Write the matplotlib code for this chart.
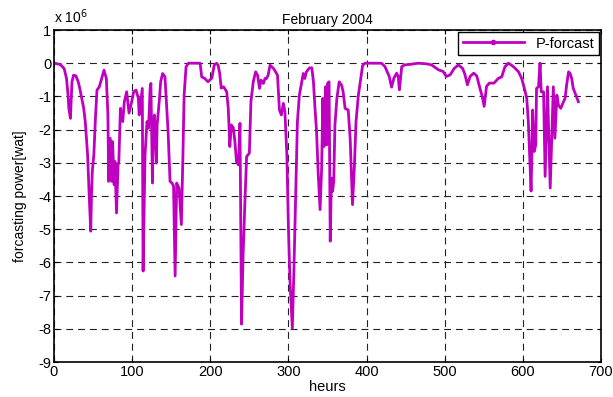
import matplotlib
matplotlib.use("Agg")
import matplotlib.pyplot as plt
from matplotlib.lines import Line2D
from matplotlib.ticker import FuncFormatter

# hourly forecast (units of 1e6 W)
hours = [0, 8, 13, 16, 18, 19, 21, 23, 25, 28, 31, 33, 36, 38, 40, 43, 45, 47, 48, 49,
         51, 53, 55, 58, 61, 64, 67, 69, 70, 72, 74, 75, 77, 78, 80, 82, 83, 85, 88, 90,
         93, 96, 99, 102, 105, 108, 109, 111, 113, 114, 116.5, 119, 121, 123, 124, 126, 127, 128.5, 131, 132,
         135, 136.5, 139, 142, 144, 146, 148.5, 151, 153, 155, 157, 160, 163, 165, 166.5, 169, 172, 187, 189, 193,
         197, 202, 205, 208, 210, 212, 214, 217, 221, 223, 225, 227, 229.5, 231.5, 233.5, 236, 238, 240, 242, 244.5,
         246.5, 250, 252, 255, 258, 260.5, 263, 265, 268, 270, 272, 274, 276.5, 281, 286, 288.5, 291, 293.5, 295.5, 298,
         300, 302, 305, 307, 309.5, 311.5, 314, 317, 319, 321, 323, 327, 330, 332, 334, 336, 338, 340.5, 342.5, 344,
         345.5, 347.5, 349, 350, 352, 353.5, 355, 356.5, 358, 359.5, 362, 365, 368, 370, 372.5, 376.5, 379, 381, 382, 384.5,
         386.5, 389.5, 392.5, 395, 398, 408, 419, 423.5, 429, 432, 435, 438.5, 440.5, 442, 445, 449, 458, 466, 477, 483,
         492, 498, 502, 507, 512, 517.5, 523, 526, 529, 532.5, 537, 541, 545, 548, 550.5, 553.5, 557, 563, 568.5, 573,
         577, 581.5, 585.5, 590, 594.5, 598.5, 602, 605, 607, 609, 610.5, 611.5, 612.5, 614.5, 616.5, 617.5, 620, 622, 623.5, 626.5,
         628.5, 631.5, 635, 639, 641, 643.5, 645.5, 648.5, 652, 654, 656, 658.5, 660.5, 662.5, 664.5, 667, 671]
power = [0, -0.04, -0.16, -0.46, -0.96, -1.36, -1.66, -0.56, -0.36, -0.38, -0.56, -0.76, -1.11, -1.36, -1.76, -2.76, -3.96, -5.06, -3.96, -3.26,
         -2.76, -1.66, -0.81, -0.71, -0.46, -0.21, -0.46, -1.56, -3.56, -2.26, -3.56, -2.36, -3.66, -2.96, -4.51, -3.06, -2.96, -1.36, -1.76, -1.16,
         -0.86, -1.5, -1.2, -0.86, -0.81, -1.06, -1.56, -1.16, -0.76, -6.26, -2.76, -1.76, -1.96, -0.76, -0.61, -3.61, -1.96, -1.56, -3.01, -1.86,
         -1.06, -0.56, -0.31, -0.41, -1.26, -2.06, -3.56, -3.61, -3.7, -6.41, -3.61, -3.76, -4.86, -2.76, -0.96, -0.11, 0, 0, -0.41, -0.46,
         -0.56, -0.45, -0.06, 0, -0.06, -0.3, -0.75, -0.71, -0.86, -1.36, -2.51, -1.86, -1.95, -2.36, -2.96, -3.06, -1.81, -7.86, -5.76, -4.06,
         -2.81, -2.71, -1.16, -0.56, -0.26, -0.36, -0.76, -0.51, -0.61, -0.46, -0.46, -0.36, -0.06, -0.16, -0.36, -1.41, -1.56, -1.21, -1.46, -2.76,
         -4.96, -6.56, -7.98, -6.26, -3.76, -1.76, -0.96, -0.56, -0.31, -0.46, -0.26, -0.14, -0.14, -0.56, -1.36, -2.06, -3.26, -4.41, -3.16, -1.06,
         -2.51, -0.71, -2.46, -0.61, -0.56, -5.36, -3.46, -3.86, -3.56, -1.86, -1.06, -0.56, -0.66, -0.86, -1.36, -1.41, -2.26, -3.56, -4.26, -3.06,
         -1.76, -0.96, -0.46, -0.06, 0, 0, 0, -0.1, -0.4, -0.72, -0.45, -0.3, -0.4, -0.8, -0.1, -0.05, -0.03, 0, -0.02, -0.05,
         -0.2, -0.25, -0.4, -0.35, -0.16, -0.05, -0.16, -0.35, -0.65, -0.4, -0.3, -0.38, -0.75, -1.0, -1.3, -0.7, -0.6, -0.6, -0.46, -0.41,
         -0.11, 0, -0.06, -0.15, -0.26, -0.46, -0.76, -1.06, -1.76, -3.0, -3.85, -2.76, -1.41, -2.66, -2.46, -0.76, -0.71, 0, -0.86, -0.86,
         -3.41, -0.71, -3.76, -0.71, -2.26, -0.96, -1.26, -1.36, -1.16, -1.06, -0.66, -0.26, -0.31, -0.46, -0.76, -0.91, -1.16]

line_color = '#c000c0'

plt.rcParams['font.family'] = ['Liberation Sans', 'DejaVu Sans']
plt.rcParams['font.size'] = 10
plt.rcParams['axes.unicode_minus'] = False
plt.rcParams['lines.scale_dashes'] = False

fig = plt.figure(figsize=(6.13, 3.97), dpi=100)
ax = fig.add_axes([54 / 613, 35 / 397, 547 / 613, 332 / 397])

ax.plot(hours, [p * 1e6 for p in power], color=line_color, lw=2.0)

ax.set_xlim(0, 700)
ax.set_ylim(-9e6, 1e6)
ax.set_xticks(range(0, 701, 100))
ax.set_yticks([v * 1e6 for v in range(-9, 2)])
ax.yaxis.set_major_formatter(FuncFormatter(lambda v, p: '%d' % round(v / 1e6)))
ax.text(0.0, 1.012, 'x 10$^{6}$', transform=ax.transAxes, ha='left', va='bottom', fontsize=10)

ax.grid(True, color='#222222', lw=0.8, linestyle=(0, (5, 3.5)))
ax.tick_params(direction='in', top=True, right=True, length=3, width=0.8, labelsize=10.5, pad=2)
for sp in ax.spines.values():
    sp.set_linewidth(1.2)

ax.set_title('February 2004', fontsize=10, pad=4)
ax.set_xlabel('heurs', fontsize=10.5, labelpad=1)
ax.set_ylabel('forcasting power[wat]', fontsize=10, labelpad=8)

handle = Line2D([], [], color=line_color, lw=2.0, marker='.', markersize=6)
leg = ax.legend([handle], ['P-forcast'], loc='upper right', fancybox=False,
                framealpha=1, edgecolor='black', borderaxespad=0.15,
                handlelength=4.2, fontsize=10.5, borderpad=0.3)
leg.get_frame().set_linewidth(1.0)

fig.savefig('out.png', dpi=100)
